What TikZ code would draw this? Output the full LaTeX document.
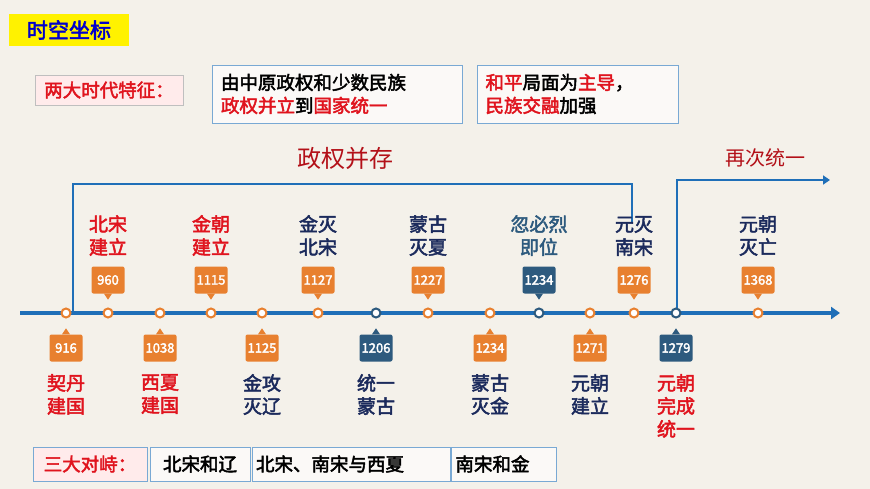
\documentclass[tikz,border=0pt]{standalone}
\usepackage{fontspec}
\setmainfont{Noto Sans CJK SC}[AutoFakeBold=2.5]
\usetikzlibrary{arrows.meta}
\definecolor{org}{HTML}{E8802F}
\definecolor{dkb}{HTML}{2D5A7E}
\definecolor{rd}{HTML}{E0141E}
\definecolor{nv}{HTML}{1B2A5C}
\definecolor{ln}{HTML}{1F6FB8}
\definecolor{bg}{HTML}{F4F1EA}
\tikzset{
 yrbox/.style={rounded corners=2pt,text=white,font=\bfseries\fontsize{13}{14}\selectfont,minimum width=33pt,minimum height=27pt,inner sep=0pt},
 ev/.style={font=\bfseries\fontsize{19}{23}\selectfont,align=center},
 dot/.style={circle,draw=org,fill=white,line width=2pt,minimum size=9pt,inner sep=0},
 frame/.style={draw=ln!60,fill=white!60!bg,line width=0.6pt},
 big/.style={font=\bfseries\fontsize{18.5}{23}\selectfont},
}
\newcommand\evt[7]{%
 \node[dot,draw=#3] (c#7) at (#1,313) {};
 \ifnum#6=1
  \node[yrbox,fill=#3] (y#7) at (#1,280) {#2};
  \fill[#3] ([xshift=-4pt]y#7.south) -- ([xshift=4pt]y#7.south) -- ([yshift=-6pt]y#7.south) -- cycle;
  \node[ev,text=#4,anchor=south,inner sep=0] (t#7) at (#1,256) {#5};
 \else
  \node[yrbox,fill=#3] (y#7) at (#1,348) {#2};
  \fill[#3] ([xshift=-4pt]y#7.north) -- ([xshift=4pt]y#7.north) -- ([yshift=6pt]y#7.north) -- cycle;
  \node[ev,text=#4,anchor=north,inner sep=0] (t#7) at (#1,374) {#5};
 \fi}
\begin{document}
\begin{tikzpicture}[x=1pt,y=-1pt]
\fill[bg] (0,0) rectangle (870,489);
\useasboundingbox (0,0) rectangle (870,489);
\node[fill=yellow,text=blue!80!black,font=\bfseries\fontsize{21}{23}\selectfont,minimum width=120pt,minimum height=32pt] (hdr) at (69,30) {时空坐标};
\node[draw=gray!50,fill=red!8,text=rd,big,minimum width=148pt,minimum height=30pt] (two) at (109,90) {两大时代特征：};
\node[frame,big,align=left,minimum width=250pt,minimum height=58pt,text width=232pt] (f1) at (337,94) {由中原政权和少数民族\\\textcolor{rd}{政权并立}到\textcolor{rd}{国家统一}};
\node[frame,big,align=left,minimum width=201pt,minimum height=58pt,text width=185pt] (f2) at (578,94) {\textcolor{rd}{和平}局面为\textcolor{rd}{主导}，\\\textcolor{rd}{民族交融}加强};
\node[text=rd!80!black,font=\fontsize{24}{26}\selectfont] (p1) at (345,158) {政权并存};
\node[text=rd!80!black,font=\fontsize{20}{22}\selectfont] (p2) at (765,158) {再次统一};
\coordinate (L0) at (20,313); \coordinate (L1) at (840,313);
\draw[ln,line width=3.5pt,-{Triangle[length=9pt,width=12pt]}] (L0) -- (L1);
\coordinate (b1) at (73,184); \coordinate (b2) at (632,184); \coordinate (b3) at (632,222); \coordinate (b4) at (73,313);
\draw[ln,line width=2.5pt] (b4) -- (b1) -- (b2) -- (b3);
\coordinate (r1) at (677,313); \coordinate (r2) at (677,180); \coordinate (r3) at (830,180);
\draw[ln,line width=2.5pt,-{Triangle[length=7pt,width=9pt]}] (r1) -- (r2) -- (r3);
\evt{66}{916}{org}{rd}{契丹\\建国}{-1}{a}
\evt{108}{960}{org}{rd}{北宋\\建立}{1}{b}
\evt{160}{1038}{org}{rd}{西夏\\建国}{-1}{c}
\evt{211}{1115}{org}{rd}{金朝\\建立}{1}{d}
\evt{262}{1125}{org}{nv}{金攻\\灭辽}{-1}{e}
\evt{318}{1127}{org}{nv}{金灭\\北宋}{1}{f}
\evt{376}{1206}{dkb}{nv}{统一\\蒙古}{-1}{g}
\evt{428}{1227}{org}{nv}{蒙古\\灭夏}{1}{h}
\evt{490}{1234}{org}{nv}{蒙古\\灭金}{-1}{i}
\evt{539}{1234}{dkb}{dkb}{忽必烈\\即位}{1}{j}
\evt{590}{1271}{org}{nv}{元朝\\建立}{-1}{k}
\evt{634}{1276}{org}{nv}{元灭\\南宋}{1}{l}
\evt{676}{1279}{dkb}{rd}{元朝\\完成\\统一}{-1}{m}
\evt{758}{1368}{org}{nv}{元朝\\灭亡}{1}{n}
\node[draw=ln!60,fill=red!8,text=rd,big,minimum width=114pt,minimum height=34pt] (three) at (90,464) {三大对峙：};
\node[frame,big,minimum width=100pt,minimum height=34pt] (s1) at (200,464) {北宋和辽};
\node[frame,big,minimum width=198pt,minimum height=34pt,text width=190pt] (s2) at (351,464) {北宋、南宋与西夏};
\node[frame,big,minimum width=105pt,minimum height=34pt,text width=97pt] (s3) at (504,464) {南宋和金};
\end{tikzpicture}
\end{document}
